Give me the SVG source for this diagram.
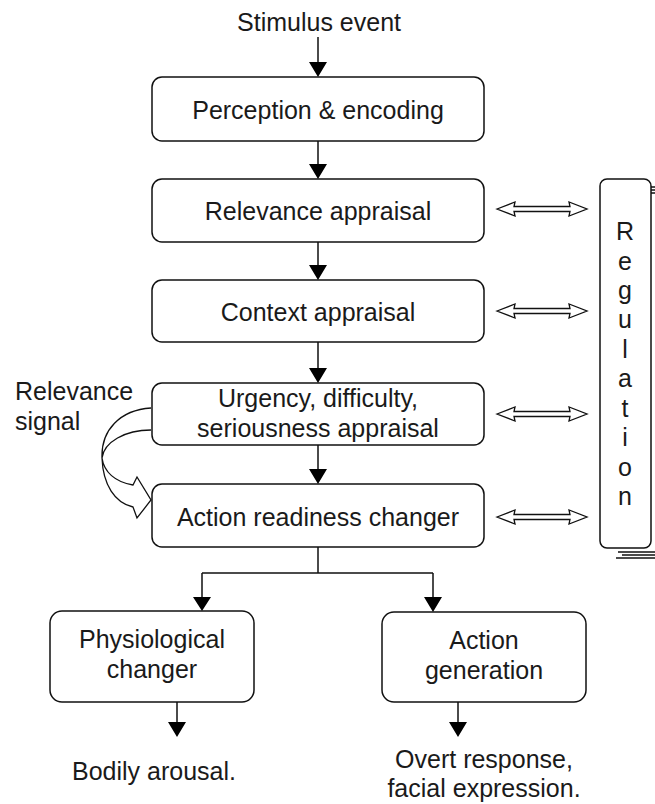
<svg xmlns="http://www.w3.org/2000/svg" width="655" height="804" viewBox="0 0 655 804">
<style>
.box{fill:#fff;stroke:#111;stroke-width:1.5}
.t{font-family:"Liberation Sans",Arial,sans-serif;font-size:25px;fill:#1a1a1a;text-anchor:middle}
.tl{font-family:"Liberation Sans",Arial,sans-serif;font-size:25px;fill:#1a1a1a}
.ln{fill:none;stroke:#111;stroke-width:1.5}
.hd{fill:#000}
.da{fill:#fff;stroke:#111;stroke-width:1.3;stroke-linejoin:miter}
</style>
<rect width="655" height="804" fill="#fff"/>
<text class="t" x="319" y="31">Stimulus event</text>
<g id="perception"><rect class="box" x="152" y="77" width="332" height="64" rx="10"/><text class="t" x="318" y="119">Perception &amp; encoding</text></g>
<g id="relevance"><rect class="box" x="152" y="179" width="332" height="63" rx="10"/><text class="t" x="318" y="220">Relevance appraisal</text></g>
<g id="context"><rect class="box" x="152" y="280" width="332" height="62" rx="10"/><text class="t" x="318" y="321">Context appraisal</text></g>
<g id="urgency"><rect class="box" x="152" y="383" width="332" height="62" rx="10"/><text class="t" x="318" y="407">Urgency, difficulty,</text><text class="t" x="318" y="437">seriousness appraisal</text></g>
<g id="readiness"><rect class="box" x="152" y="484" width="332" height="63" rx="10"/><text class="t" x="318" y="526">Action readiness changer</text></g>
<g id="physiological"><rect class="box" x="50" y="611" width="204" height="91" rx="12"/><text class="t" x="152" y="648">Physiological</text><text class="t" x="152" y="678">changer</text></g>
<g id="actiongen"><rect class="box" x="382" y="612" width="204" height="90" rx="12"/><text class="t" x="484" y="649">Action</text><text class="t" x="484" y="679">generation</text></g>
<g id="regulation">
<rect class="box" x="600" y="179" width="51" height="369" rx="7"/>
<path class="ln" d="M651,187 H655 M651,190 H655 M651,193 H655" stroke-width="1"/>
<path class="ln" d="M618,552 H655 M622,555 H655 M616,558 H655" stroke-width="1"/>
<g class="t">
<text x="625" y="240">R</text><text x="625" y="270">e</text><text x="625" y="299">g</text><text x="625" y="328">u</text><text x="625" y="358">l</text><text x="625" y="387">a</text><text x="625" y="417">t</text><text x="625" y="446">i</text><text x="625" y="476">o</text><text x="625" y="505">n</text>
</g>
</g>
<text class="tl" x="15" y="400">Relevance</text>
<text class="tl" x="15" y="430">signal</text>
<text class="t" x="154" y="780">Bodily arousal.</text>
<text class="t" x="484" y="768">Overt response,</text>
<text class="t" x="484" y="797">facial expression.</text>
<g id="connectors">
<path class="ln" d="M318,37 V63 M318,141 V165 M318,242 V266 M318,342 V369 M318,445 V470 M318,547 V573 M202,573 H433 M202,573 V598 M433,573 V598 M177,702 V723 M458,702 V723"/>
<path class="hd" d="M309,62 H327 L318,77 Z M309,164 H327 L318,179 Z M309,265 H327 L318,280 Z M309,368 H327 L318,383 Z M309,469 H327 L318,484 Z M193,597 H211 L202,611 Z M424,597 H442 L433,612 Z M168,722 H186 L177,737 Z M449,722 H467 L458,737 Z"/>
<path class="da" d="M497,209 L515,202 L514,206.5 L570,206.5 L569,202 L587,209 L569,216 L570,211.5 L514,211.5 L515,216 Z"/>
<path class="da" d="M497,311 L515,304 L514,308.5 L570,308.5 L569,304 L587,311 L569,318 L570,313.5 L514,313.5 L515,318 Z"/>
<path class="da" d="M497,414 L515,407 L514,411.5 L570,411.5 L569,407 L587,414 L569,421 L570,416.5 L514,416.5 L515,421 Z"/>
<path class="da" d="M497,517 L515,510 L514,514.5 L570,514.5 L569,510 L587,517 L569,524 L570,519.5 L514,519.5 L515,524 Z"/>
<path class="da" d="M151,408 C120,410 101,430 102,458 C103,485 115,503 133,507 L137,518 L151,500 L137,477 L133,485 C115,482 104,472 102,458 C104,442 125,430 151,430"/>
</g>
</svg>
